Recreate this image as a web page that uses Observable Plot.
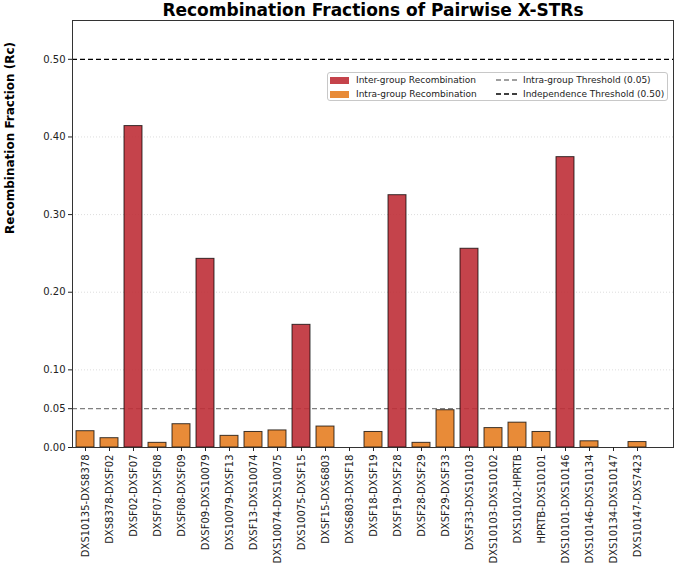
<!DOCTYPE html>
<html><head><meta charset="utf-8">
<script src="https://cdn.jsdelivr.net/npm/d3@7"></script>
<script src="https://cdn.jsdelivr.net/npm/@observablehq/plot@0.6"></script>
<style>
body{margin:0;background:#fff;font-family:"DejaVu Sans",sans-serif;}
#wrap{position:relative;width:676px;height:568px;}
.legend{position:absolute;left:327px;top:72px;width:341px;height:29px;border:1px solid #c8c8c8;border-radius:3px;background:rgba(255,255,255,0.85);font-size:9px;color:#222;box-sizing:border-box;}
.item{position:absolute;display:flex;align-items:center;height:12px;white-space:nowrap;}
.patch{width:19px;height:7px;margin-right:7px;opacity:0.9;}
</style></head>
<body><div id="wrap"></div>
<script>
const pairs = ["DXS10135-DXS8378","DXS8378-DXSF02","DXSF02-DXSF07","DXSF07-DXSF08","DXSF08-DXSF09","DXSF09-DXS10079","DXS10079-DXSF13","DXSF13-DXS10074","DXS10074-DXS10075","DXS10075-DXSF15","DXSF15-DXS6803","DXS6803-DXSF18","DXSF18-DXSF19","DXSF19-DXSF28","DXSF28-DXSF29","DXSF29-DXSF33","DXSF33-DXS10103","DXS10103-DXS10102","DXS10102-HPRTB","HPRTB-DXS10101","DXS10101-DXS10146","DXS10146-DXS10134","DXS10134-DXS10147","DXS10147-DXS7423"];
const rc = [0.021,0.012,0.414,0.006,0.030,0.243,0.015,0.020,0.022,0.158,0.027,0.000,0.020,0.325,0.006,0.048,0.256,0.025,0.032,0.020,0.374,0.008,0.000,0.007];
const groups = ["Intra","Intra","Inter","Intra","Intra","Inter","Intra","Intra","Intra","Inter","Intra","Intra","Intra","Inter","Intra","Intra","Inter","Intra","Intra","Intra","Inter","Intra","Intra","Intra"];
const groupNames = ["Inter-group Recombination","Intra-group Recombination"];
const groupColors = ["#bf2f37","#e67e22"];
const yTicks = [0,0.05,0.1,0.2,0.3,0.4,0.5];
const gridTicks = [0.1,0.2,0.3,0.4];
const intraThreshold = [0.05];
const independenceThreshold = [0.5];
const thresholdNames = ["Intra-group Threshold (0.05)","Independence Threshold (0.50)"];
const title = "Recombination Fractions of Pairwise X-STRs";
const yLabel = "Recombination Fraction (Rc)";

const data = pairs.map((p,i)=>({pair:p, rc:rc[i], group: groups[i]==="Inter" ? groupNames[0] : groupNames[1]}));

const chart = Plot.plot({
  width: 676, height: 568,
  marginLeft: 72, marginRight: 3, marginTop: 20, marginBottom: 121,
  style: {fontFamily: "DejaVu Sans, sans-serif", fontSize: "10px", color: "#222", background: "#fff"},
  x: {domain: pairs, range: [73, 649], paddingInner: 0.24, paddingOuter: 0.12},
  y: {domain: [0, 0.55]},
  color: {domain: groupNames, range: groupColors},
  marks: [
    Plot.gridY(gridTicks, {stroke: "#d5d5d5", strokeOpacity: 1, strokeDasharray: "1,2", strokeWidth: 0.8}),
    Plot.ruleY(intraThreshold, {stroke: "#808080", strokeDasharray: "5,3", strokeWidth: 1.3}),
    Plot.ruleY(independenceThreshold, {stroke: "#000", strokeDasharray: "5,3", strokeWidth: 1.3}),
    Plot.barY(data, {x: "pair", y: "rc", fill: "group", fillOpacity: 0.9, stroke: "#000", strokeOpacity: 0.75, strokeWidth: 1}),
    Plot.frame({stroke: "#333", strokeWidth: 1}),
    Plot.axisY({ticks: yTicks, tickFormat: ".2f", tickSize: 4, tickPadding: 3, label: null, fontSize: 10}),
    Plot.axisX({tickRotate: -90, tickSize: 4, tickPadding: 3, label: null, fontSize: 10}),
    Plot.text([title], {frameAnchor: "top", dy: -10, lineAnchor: "middle", fontSize: 17, fontWeight: "bold", fill: "#000"}),
    Plot.text([yLabel], {frameAnchor: "left", dx: -62, rotate: -90, fontSize: 12, fontWeight: "bold", fill: "#000"})
  ]
});
const wrap = document.getElementById("wrap");
wrap.appendChild(chart);

const lg = document.createElement("div");
lg.className = "legend";
function dashSvg(color){
  return `<svg width="21" height="6" style="margin-right:6px"><line x1="0" y1="3" x2="21" y2="3" stroke="${color}" stroke-width="1.3" stroke-dasharray="5,3"/></svg>`;
}
lg.innerHTML =
  `<div class="item" style="left:2px;top:1px"><div class="patch" style="background:${groupColors[0]}"></div>${groupNames[0]}</div>` +
  `<div class="item" style="left:2px;top:15px"><div class="patch" style="background:${groupColors[1]}"></div>${groupNames[1]}</div>` +
  `<div class="item" style="left:168px;top:1px">${dashSvg("#808080")}${thresholdNames[0]}</div>` +
  `<div class="item" style="left:168px;top:15px">${dashSvg("#000")}${thresholdNames[1]}</div>`;
wrap.appendChild(lg);
</script></body></html>
